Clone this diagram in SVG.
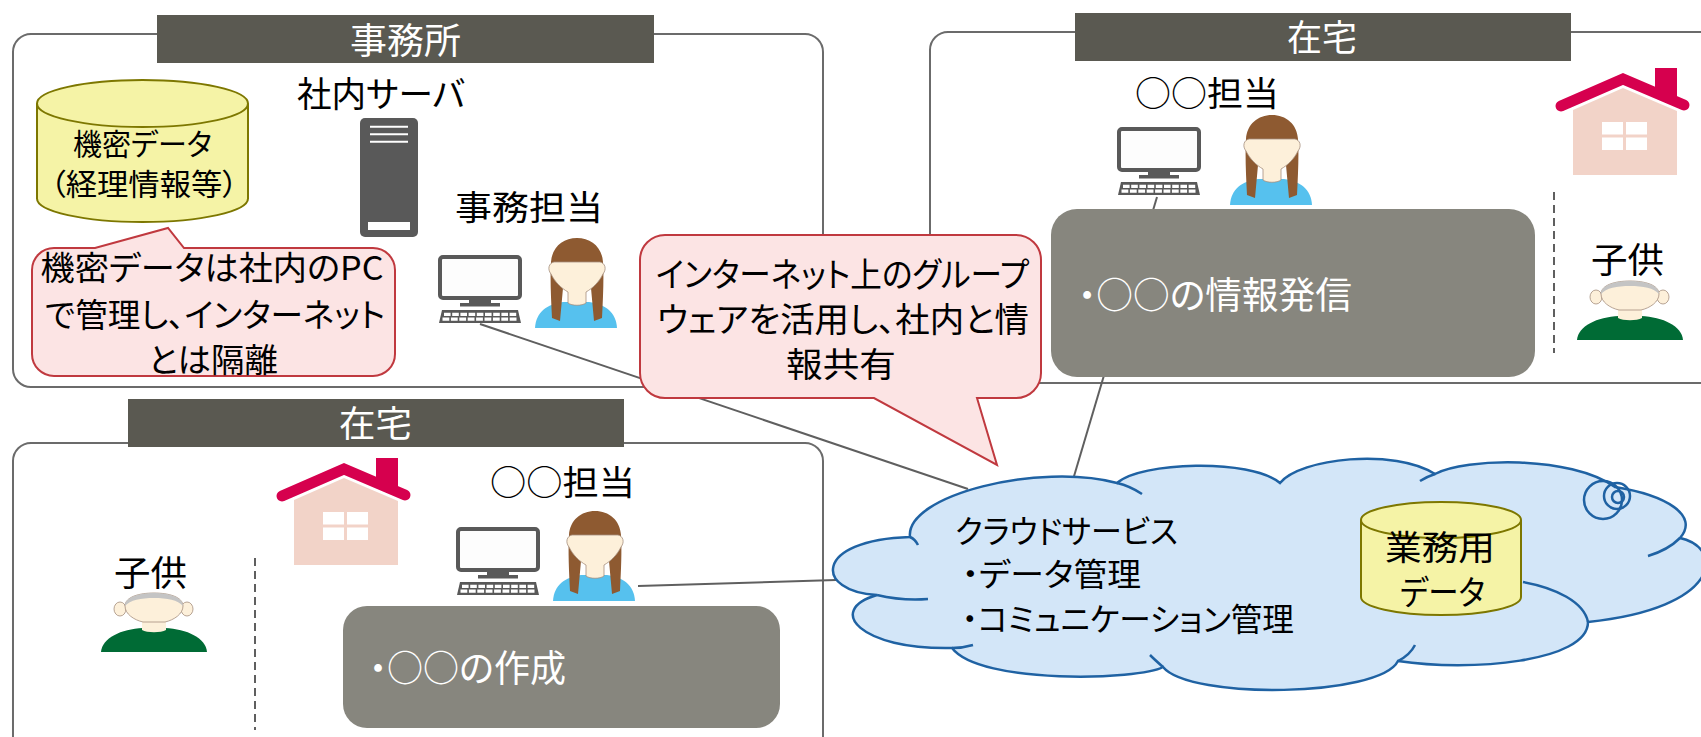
<svg xmlns="http://www.w3.org/2000/svg" width="1701" height="737" viewBox="0 0 1701 737">
  <style>
    .frame { fill: #fff; stroke: #6b6b6b; stroke-width: 2; }
    .bar { fill: #5a5951; }
    .jp { font-family: "Noto Sans CJK JP", "Noto Sans", sans-serif; font-feature-settings: "palt"; }
    .bar-t { font-size: 36px; fill: #fff; text-anchor: middle; }
    .t { fill: #000; }
    .mid { text-anchor: middle; }
    .note { fill: #fce4e4; stroke: #c0393f; stroke-width: 2; stroke-linejoin: miter; }
    .task { fill: #87867e; }
    .task-t { font-size: 37px; fill: #fff; }
    .link { stroke: #5f5f5f; stroke-width: 2; fill: none; }
    .sep { stroke: #5f5f5f; stroke-width: 2; stroke-dasharray: 8 5; }
    .db { fill: #f5f3a6; stroke: #7d7700; stroke-width: 2; }
    .cloud { fill: #d3e6f8; stroke: #1f62a3; stroke-width: 2.5; }
    .cloud-line { fill: none; stroke: #1f62a3; stroke-width: 2.5; }
  </style>

  <defs>
    <!-- desktop computer: monitor, stand and keyboard (84 x 68) -->
    <g id="pc">
      <rect x="2" y="2" width="80" height="41" rx="3" fill="#fdfdfd" stroke="#595959" stroke-width="4"/>
      <rect x="31" y="43" width="22" height="6" fill="#595959"/>
      <rect x="22" y="48" width="40" height="3.5" fill="#595959"/>
      <path d="M4 55 H80 L83 68 H1 Z" fill="#595959"/>
      <line x1="6" y1="59.3" x2="79" y2="59.3" stroke="#fff" stroke-width="3.2" stroke-dasharray="6.6 1.6"/>
      <line x1="4.5" y1="64.2" x2="80" y2="64.2" stroke="#fff" stroke-width="3.2" stroke-dasharray="6.8 1.6"/>
    </g>

    <!-- staff member with long hair (82 x 90) -->
    <g id="woman">
      <path d="M0 90 C1 74 12 66 28 64 L54 64 C70 66 81 74 82 90 Z" fill="#56c1ee"/>
      <path d="M17 80 C16 60 15 40 16 24 C17 9 28 0 42 0 C56 0 67 9 68 24 C69 40 68 60 67 80 L59 83 L56 50 L28 50 L25 83 Z" fill="#8e5a31"/>
      <path d="M19 24 H65 C70 25 72 31 68 36 C64 44 58 50 51 54 V65 C47 68 37 68 33 65 V54 C26 50 20 44 16 36 C12 31 14 25 19 24 Z" fill="#fdf0da" stroke="#a48e7e" stroke-width="0.8"/>
    </g>

    <!-- child (106 x 60) -->
    <g id="child">
      <path d="M0 59 C1 45 20 36 42 35 L64 35 C86 36 105 45 106 59 Z" fill="#006b35"/>
      <path d="M41 22 H65 V37 C60 40 46 40 41 37 Z" fill="#fdf0da"/>
      <ellipse cx="19" cy="16" rx="6" ry="7" fill="#fdf0da" stroke="#a48e7e" stroke-width="0.8"/>
      <ellipse cx="86" cy="16" rx="6" ry="7" fill="#fdf0da" stroke="#a48e7e" stroke-width="0.8"/>
      <path d="M24 13 C24 4 38 0 53 0 C68 0 82 4 82 13 C82 21 73 27 64 29 L42 29 C33 27 24 21 24 13 Z" fill="#fdf0da" stroke="#a48e7e" stroke-width="0.8"/>
      <path d="M24 13 C24 4 38 0 53 0 C68 0 82 4 82 13 C77 7 66 5 53 5 C40 5 29 7 24 13 Z" fill="#c4c4c4"/>
    </g>

    <!-- house (136 x 107) -->
    <g id="house">
      <rect x="100" y="0" width="22" height="28" fill="#d6004e"/>
      <path d="M18 107 V42 L68 20 L122 43 V107 Z" fill="#f2d3c8"/>
      <polyline points="6,38 68,11 129,37" fill="none" stroke="#d6004e" stroke-width="11" stroke-linecap="round" stroke-linejoin="miter"/>
      <rect x="47" y="54" width="21" height="12.5" fill="#fff"/>
      <rect x="71" y="54" width="21" height="12.5" fill="#fff"/>
      <rect x="47" y="69.5" width="21" height="12.5" fill="#fff"/>
      <rect x="71" y="69.5" width="21" height="12.5" fill="#fff"/>
    </g>
  </defs>

  <!-- area frames -->
  <g id="office-frame">
    <rect class="frame" x="13" y="34" width="810" height="353" rx="18"/>
  </g>
  <g id="home-a-frame">
    <rect class="frame" x="930" y="32" width="800" height="351" rx="18"/>
  </g>
  <g id="home-b-frame">
    <rect class="frame" x="13" y="443" width="810" height="330" rx="18"/>
  </g>

  <!-- connectors -->
  <g id="connectors">
    <line class="link" x1="480" y1="324" x2="968" y2="489"/>
    <line class="link" x1="1157" y1="197" x2="1072" y2="483"/>
    <line class="link" x1="638" y1="586" x2="836" y2="580"/>
  </g>

  <!-- office -->
  <g id="office-title">
    <rect class="bar" x="157" y="15" width="497" height="48"/>
    <text class="jp bar-t" x="405.5" y="54" textLength="111" lengthAdjust="spacingAndGlyphs">事務所</text>
  </g>

  <g id="secret-data">
    <path class="db" d="M37 103.5 V198.5 A105.5 23.5 0 0 0 248 198.5 V103.5"/>
    <ellipse class="db" cx="142.5" cy="103.5" rx="105.5" ry="23.5"/>
    <text class="jp t mid" x="142.5" y="155" font-size="30" textLength="139" lengthAdjust="spacingAndGlyphs">機密データ</text>
    <text class="jp t mid" x="144" y="195" font-size="30" textLength="188" lengthAdjust="spacingAndGlyphs">（経理情報等）</text>
  </g>

  <g id="server">
    <text class="jp t mid" x="381" y="107" font-size="35" textLength="168" lengthAdjust="spacingAndGlyphs">社内サーバ</text>
    <rect x="360" y="118" width="58" height="119" rx="5" fill="#595959"/>
    <line x1="370" y1="126.7" x2="408" y2="126.7" stroke="#fff" stroke-width="2"/>
    <line x1="370" y1="134.3" x2="408" y2="134.3" stroke="#fff" stroke-width="2"/>
    <line x1="370" y1="141.7" x2="408" y2="141.7" stroke="#fff" stroke-width="2"/>
    <rect x="368" y="222" width="42" height="8" fill="#fff"/>
  </g>

  <g id="office-staff">
    <text class="jp t mid" x="529" y="220" font-size="34" textLength="148" lengthAdjust="spacingAndGlyphs">事務担当</text>
    <use href="#pc" x="438" y="255"/>
    <use href="#woman" x="535" y="238"/>
  </g>

  <g id="note-isolation">
    <path class="note" d="M54 248 H95 L168 228 L184 248 H373 A22 22 0 0 1 395 270 V354 A22 22 0 0 1 373 376 H54 A22 22 0 0 1 32 354 V270 A22 22 0 0 1 54 248 Z"/>
    <text class="jp t mid" x="212" y="280" font-size="33" textLength="343" lengthAdjust="spacingAndGlyphs">機密データは社内のPC</text>
    <text class="jp t mid" x="215" y="327" font-size="33" textLength="340" lengthAdjust="spacingAndGlyphs">で管理し、インターネット</text>
    <text class="jp t mid" x="213" y="371.5" font-size="33" textLength="130" lengthAdjust="spacingAndGlyphs">とは隔離</text>
  </g>

  <!-- home (top right) -->
  <g id="home-a-title">
    <rect class="bar" x="1075" y="13" width="496" height="48"/>
    <text class="jp bar-t" x="1322" y="51" textLength="70" lengthAdjust="spacingAndGlyphs">在宅</text>
  </g>

  <g id="home-a-task">
    <rect class="task" x="1051" y="209" width="484" height="168" rx="26"/>
    <text class="jp task-t" x="1078" y="309" textLength="274" lengthAdjust="spacingAndGlyphs">・○○の情報発信</text>
  </g>

  <g id="home-a-staff">
    <text class="jp t mid" x="1207" y="105.5" font-size="34" textLength="144" lengthAdjust="spacingAndGlyphs">○○担当</text>
    <use href="#pc" x="1117" y="127"/>
    <use href="#woman" x="1230" y="115"/>
  </g>

  <g id="home-a-house">
    <use href="#house" x="1555" y="68"/>
    <line class="sep" x1="1554" y1="192" x2="1554" y2="353"/>
  </g>

  <g id="home-a-child">
    <text class="jp t mid" x="1627.5" y="272.5" font-size="35" textLength="73" lengthAdjust="spacingAndGlyphs">子供</text>
    <use href="#child" x="1577" y="281"/>
  </g>

  <!-- home (bottom left) -->
  <g id="home-b-title">
    <rect class="bar" x="128" y="399" width="496" height="48"/>
    <text class="jp bar-t" x="375.5" y="437" textLength="73" lengthAdjust="spacingAndGlyphs">在宅</text>
  </g>

  <g id="home-b-house">
    <use href="#house" x="276" y="458"/>
    <line class="sep" x1="255" y1="558" x2="255" y2="730"/>
  </g>

  <g id="home-b-child">
    <text class="jp t mid" x="150.5" y="585.5" font-size="35" textLength="73" lengthAdjust="spacingAndGlyphs">子供</text>
    <use href="#child" x="101" y="593"/>
  </g>

  <g id="home-b-task">
    <rect class="task" x="343" y="606" width="437" height="122" rx="24"/>
    <text class="jp task-t" x="369" y="682" textLength="197" lengthAdjust="spacingAndGlyphs">・○○の作成</text>
  </g>

  <g id="home-b-staff">
    <text class="jp t mid" x="562.5" y="494.5" font-size="34" textLength="145" lengthAdjust="spacingAndGlyphs">○○担当</text>
    <use href="#pc" x="456" y="527"/>
    <use href="#woman" x="553" y="511"/>
  </g>

  <!-- cloud service -->
  <g id="cloud-service">
    <path class="cloud" d="M910 537 C905 495 1040 462 1117 483 C1140 462 1250 458 1280 483 C1300 458 1395 448 1435 474 C1465 458 1570 455 1615 487 C1665 495 1700 515 1680 538 C1725 548 1722 608 1588 622 C1588 662 1470 672 1398 661 C1380 697 1190 700 1163 667 C1140 680 980 685 952 648 C860 650 825 610 877 595 C815 592 812 540 910 537 Z"/>
    <path class="cloud-line" d="M910 537 Q915 539 918 545 M1117 483 Q1130 486 1142 494 M1420 481 Q1426 477 1435 474 M1680 538 Q1668 550 1648 556 M1523 582 C1556 588 1584 602 1588 622 M1398 661 Q1410 655 1415 645 M1163 667 Q1155 660 1150 655 M952 648 Q963 648 973 645 M877 595 Q902 601 928 599"/>
    <circle class="cloud-line" cx="1603" cy="500" r="19"/>
    <circle class="cloud-line" cx="1617" cy="496" r="13"/>
    <circle class="cloud-line" cx="1618" cy="497" r="6"/>
    <text class="jp t" x="955" y="542.5" font-size="32" textLength="223" lengthAdjust="spacingAndGlyphs">クラウドサービス</text>
    <text class="jp t" x="962" y="586" font-size="32" textLength="179" lengthAdjust="spacingAndGlyphs">・データ管理</text>
    <text class="jp t" x="962" y="630.5" font-size="32" textLength="332" lengthAdjust="spacingAndGlyphs">・コミュニケーション管理</text>
  </g>

  <g id="business-data">
    <path class="db" d="M1361 520 V597 A80 18 0 0 0 1521 597 V520"/>
    <ellipse class="db" cx="1441" cy="520" rx="80" ry="18"/>
    <text class="jp t mid" x="1440" y="560" font-size="34" textLength="110" lengthAdjust="spacingAndGlyphs">業務用</text>
    <text class="jp t mid" x="1442.5" y="605" font-size="34" textLength="85" lengthAdjust="spacingAndGlyphs">データ</text>
  </g>

  <g id="note-groupware">
    <path class="note" d="M665 235 H1016 A25 25 0 0 1 1041 260 V373 A25 25 0 0 1 1016 398 H977 L997 465 L874 398 H665 A25 25 0 0 1 640 373 V260 A25 25 0 0 1 665 235 Z"/>
    <text class="jp t mid" x="842.5" y="287" font-size="34" textLength="373" lengthAdjust="spacingAndGlyphs">インターネット上のグループ</text>
    <text class="jp t mid" x="843" y="332" font-size="34" textLength="372" lengthAdjust="spacingAndGlyphs">ウェアを活用し、社内と情</text>
    <text class="jp t mid" x="841" y="377" font-size="34" textLength="110" lengthAdjust="spacingAndGlyphs">報共有</text>
  </g>
</svg>
